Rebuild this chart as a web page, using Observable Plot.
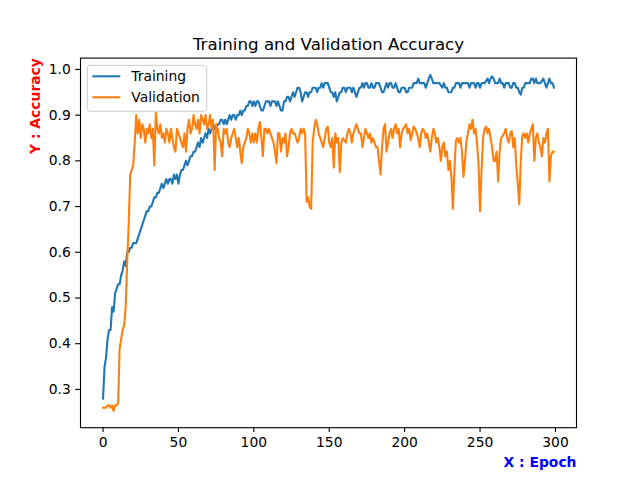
<!DOCTYPE html>
<html>
<head>
<meta charset="utf-8">
<script src="https://cdn.jsdelivr.net/npm/d3@7"></script>
<script src="https://cdn.jsdelivr.net/npm/@observablehq/plot@0.6"></script>
<style>
  html, body { margin: 0; padding: 0; background: white; }
</style>
</head>
<body>
<div id="chart"></div>
<script>
const titleText = "Training and Validation Accuracy";
const seriesNames = ["Training", "Validation"];
const seriesColors = ["#1f77b4", "#ff7f0e"];
const xTicks = [0, 50, 100, 150, 200, 250, 300];
const yTicks = [0.3, 0.4, 0.5, 0.6, 0.7, 0.8, 0.9, 1.0];

const trainingAcc = [
  0.28, 0.35, 0.37, 0.41, 0.43, 0.43, 0.48, 0.47, 0.51, 0.52,
  0.53, 0.53, 0.55, 0.56, 0.58, 0.57, 0.60, 0.60, 0.61, 0.61,
  0.62, 0.62, 0.62, 0.63, 0.64, 0.65, 0.66, 0.67, 0.68, 0.69,
  0.69, 0.70, 0.70, 0.71, 0.72, 0.72, 0.73, 0.73, 0.74, 0.75,
  0.74, 0.75, 0.76, 0.75, 0.76, 0.76, 0.75, 0.77, 0.76, 0.77,
  0.75, 0.77, 0.78, 0.78, 0.79, 0.80, 0.79, 0.80, 0.81, 0.81,
  0.82, 0.82, 0.83, 0.84, 0.83, 0.85, 0.84, 0.85, 0.86, 0.85,
  0.87, 0.86, 0.87, 0.88, 0.87, 0.87, 0.88, 0.88, 0.89, 0.89,
  0.88, 0.89, 0.88, 0.89, 0.90, 0.89, 0.90, 0.90, 0.89, 0.90,
  0.90, 0.91, 0.90, 0.91, 0.91, 0.92, 0.92, 0.93, 0.93, 0.92,
  0.93, 0.92, 0.93, 0.93, 0.92, 0.91, 0.91, 0.92, 0.93, 0.93,
  0.93, 0.92, 0.93, 0.93, 0.93, 0.92, 0.93, 0.92, 0.91, 0.91,
  0.93, 0.93, 0.94, 0.94, 0.93, 0.94, 0.95, 0.94, 0.95, 0.96,
  0.96, 0.95, 0.93, 0.94, 0.95, 0.95, 0.94, 0.95, 0.95, 0.96,
  0.96, 0.96, 0.95, 0.96, 0.96, 0.97, 0.96, 0.97, 0.97, 0.97,
  0.96, 0.95, 0.95, 0.94, 0.95, 0.93, 0.94, 0.95, 0.95, 0.96,
  0.96, 0.95, 0.96, 0.96, 0.96, 0.95, 0.96, 0.95, 0.94, 0.95,
  0.96, 0.96, 0.97, 0.96, 0.97, 0.97, 0.96, 0.96, 0.97, 0.96,
  0.96, 0.97, 0.97, 0.97, 0.96, 0.95, 0.95, 0.96, 0.97, 0.96,
  0.97, 0.97, 0.96, 0.96, 0.97, 0.96, 0.95, 0.95, 0.96, 0.96,
  0.96, 0.95, 0.95, 0.96, 0.96, 0.96, 0.97, 0.97, 0.97, 0.98,
  0.97, 0.97, 0.97, 0.97, 0.96, 0.97, 0.98, 0.988, 0.98, 0.97,
  0.97, 0.97, 0.97, 0.97, 0.965, 0.96, 0.97, 0.96, 0.96, 0.95,
  0.95, 0.95, 0.96, 0.96, 0.97, 0.97, 0.97, 0.96, 0.97, 0.97,
  0.97, 0.97, 0.97, 0.96, 0.97, 0.97, 0.97, 0.96, 0.97, 0.97,
  0.96, 0.97, 0.97, 0.97, 0.975, 0.98, 0.97, 0.98, 0.985, 0.98,
  0.97, 0.97, 0.97, 0.98, 0.97, 0.97, 0.96, 0.97, 0.97, 0.97,
  0.96, 0.96, 0.97, 0.97, 0.96, 0.96, 0.95, 0.945, 0.96, 0.96,
  0.97, 0.97, 0.97, 0.97, 0.98, 0.98, 0.97, 0.98, 0.97, 0.97,
  0.97, 0.975, 0.98, 0.97, 0.96, 0.97, 0.98, 0.97, 0.97, 0.96
];

const validationAcc = [
  0.26, 0.26, 0.26, 0.265, 0.265, 0.26, 0.265, 0.253, 0.265, 0.265,
  0.27, 0.39, 0.41, 0.43, 0.44, 0.48, 0.58, 0.66, 0.77, 0.78,
  0.79, 0.84, 0.90, 0.86, 0.89, 0.85, 0.88, 0.87, 0.84, 0.87,
  0.86, 0.88, 0.85, 0.87, 0.79, 0.905, 0.87, 0.86, 0.88, 0.85,
  0.86, 0.84, 0.87, 0.86, 0.84, 0.87, 0.85, 0.83, 0.82, 0.87,
  0.86, 0.85, 0.84, 0.83, 0.86, 0.82, 0.87, 0.89, 0.86, 0.87,
  0.90, 0.88, 0.87, 0.89, 0.86, 0.90, 0.89, 0.88, 0.90, 0.87,
  0.88, 0.90, 0.87, 0.89, 0.78, 0.88, 0.87, 0.85, 0.84, 0.81,
  0.87, 0.86, 0.87, 0.84, 0.83, 0.85, 0.86, 0.87, 0.85, 0.83,
  0.85, 0.82, 0.795, 0.83, 0.84, 0.85, 0.87, 0.86, 0.84, 0.86,
  0.84, 0.86, 0.84, 0.87, 0.885, 0.85, 0.81, 0.87, 0.87, 0.86,
  0.87, 0.86, 0.85, 0.84, 0.82, 0.795, 0.86, 0.86, 0.82, 0.85,
  0.84, 0.86, 0.81, 0.83, 0.86, 0.87, 0.86, 0.86, 0.85, 0.84,
  0.85, 0.87, 0.86, 0.87, 0.86, 0.71, 0.72, 0.70, 0.695, 0.84,
  0.87, 0.89, 0.88, 0.86, 0.85, 0.84, 0.83, 0.85, 0.87, 0.875,
  0.84, 0.83, 0.85, 0.785, 0.86, 0.84, 0.85, 0.775, 0.84, 0.85,
  0.845, 0.84, 0.86, 0.87, 0.86, 0.84, 0.86, 0.87, 0.88, 0.87,
  0.86, 0.86, 0.83, 0.85, 0.87, 0.86, 0.85, 0.86, 0.84, 0.85,
  0.84, 0.83, 0.83, 0.80, 0.77, 0.83, 0.87, 0.88, 0.82, 0.84,
  0.86, 0.87, 0.85, 0.87, 0.88, 0.86, 0.87, 0.83, 0.86, 0.87,
  0.875, 0.88, 0.86, 0.87, 0.845, 0.86, 0.875, 0.87, 0.86, 0.85,
  0.83, 0.86, 0.87, 0.865, 0.85, 0.86, 0.84, 0.82, 0.85, 0.87,
  0.86, 0.84, 0.85, 0.83, 0.80, 0.83, 0.84, 0.81, 0.82, 0.78,
  0.80, 0.765, 0.695, 0.78, 0.845, 0.85, 0.84, 0.85, 0.82, 0.765,
  0.80, 0.845, 0.86, 0.88, 0.87, 0.89, 0.86, 0.87, 0.84, 0.79,
  0.69, 0.78, 0.85, 0.87, 0.875, 0.86, 0.87, 0.85, 0.83, 0.80,
  0.80, 0.82, 0.755, 0.82, 0.85, 0.855, 0.86, 0.87, 0.85, 0.84,
  0.86, 0.865, 0.83, 0.85, 0.79, 0.75, 0.705, 0.80, 0.855, 0.86,
  0.85, 0.86, 0.84, 0.86, 0.87, 0.88, 0.80, 0.85, 0.86, 0.84,
  0.83, 0.81, 0.85, 0.84, 0.86, 0.87, 0.755, 0.81, 0.82, 0.82
];

const rows = [];
[trainingAcc, validationAcc].forEach((arr, s) => {
  arr.forEach((v, i) => rows.push({epoch: i, acc: v, series: seriesNames[s]}));
});

// matplotlib-style 5% margins
const allVals = trainingAcc.concat(validationAcc);
const yMin = d3.min(allVals), yMax = d3.max(allVals);
const yPad = (yMax - yMin) * 0.05;
const xMax = trainingAcc.length - 1;
const xPad = xMax * 0.05;

const PT = 100 / 72;
const fs = 10 * PT;

const mL = 80, mR = 64, mT = 57.6, mB = 52.8;

const chart = Plot.plot({
  width: 640,
  height: 480,
  marginLeft: mL, marginRight: mR, marginTop: mT, marginBottom: mB,
  style: {fontFamily: "DejaVu Sans", fontSize: fs + "px", background: "white", color: "black", overflow: "visible"},
  x: {domain: [-xPad, xMax + xPad]},
  y: {domain: [yMin - yPad, yMax + yPad]},
  color: {domain: seriesNames, range: seriesColors},
  marks: [
    Plot.axisX({ticks: xTicks, tickFormat: d => String(d), tickSize: 3.5 * PT, tickPadding: 3.5 * PT, label: null, fontSize: fs, stroke: "black", strokeWidth: 0.8 * PT}),
    Plot.axisY({ticks: yTicks, tickFormat: d3.format(".1f"), tickSize: 3.5 * PT, tickPadding: 3.5 * PT, label: null, fontSize: fs, stroke: "black", strokeWidth: 0.8 * PT}),
    Plot.line(rows, {x: "epoch", y: "acc", z: "series", stroke: "series", strokeWidth: 1.5 * PT, strokeLinejoin: "round", strokeLinecap: "square"}),
    Plot.frame({stroke: "black", strokeWidth: 0.8 * PT}),
    Plot.text([titleText], {frameAnchor: "top", dy: -6 * PT, lineAnchor: "bottom", fontSize: 12 * PT, fill: "black"}),
    Plot.text(["Y : Accuracy"], {frameAnchor: "top-left", dx: -45, rotate: -90, textAnchor: "end", lineAnchor: "middle", fontSize: fs, fontWeight: "bold", fill: "red"}),
    Plot.text(["X : Epoch"], {frameAnchor: "bottom-right", dy: 35, textAnchor: "end", lineAnchor: "middle", fontSize: fs, fontWeight: "bold", fill: "blue"})
  ]
});

// legend (matplotlib style, upper left)
const svg = d3.select(chart);
const lx = mL + 7.3, ly = mT + 7.7;
const boxW = 119.4, boxH = 46;
const g = svg.append("g")
  .attr("font-family", "DejaVu Sans")
  .attr("font-size", fs)
  .attr("text-anchor", "start");
g.append("rect").attr("x", lx).attr("y", ly).attr("width", boxW).attr("height", boxH)
  .attr("rx", 3).attr("fill", "white").attr("fill-opacity", 0.8).attr("stroke", "#cccccc").attr("stroke-width", 1);
const rowY = [ly + 11, ly + 32];
seriesNames.forEach((name, i) => {
  const cy = rowY[i];
  g.append("line").attr("x1", lx + 5).attr("x2", lx + 33)
    .attr("y1", cy).attr("y2", cy).attr("stroke", seriesColors[i]).attr("stroke-width", 1.5 * PT);
  g.append("text").attr("x", lx + 44).attr("y", cy).attr("dy", "0.35em")
    .attr("fill", "black").text(name);
});

document.getElementById("chart").appendChild(chart);
</script>
</body>
</html>
